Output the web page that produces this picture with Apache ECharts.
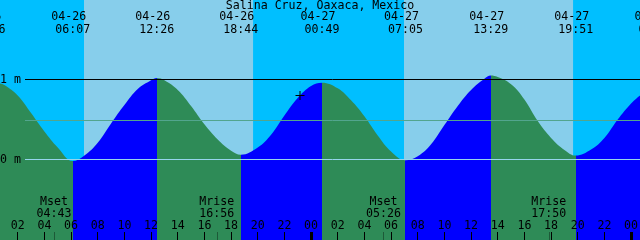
<!DOCTYPE html>
<html><head><meta charset="utf-8">
<script src="https://cdn.jsdelivr.net/npm/echarts@6/dist/echarts.min.js"></script>
<style>html,body{margin:0;padding:0;background:#fff}#c{width:640px;height:240px}</style>
</head><body><div id="c"></div>
<script>
// ---------------- data ----------------
const stationName = 'Salina Cruz, Oaxaca, Mexico';
// hours counted from 04-26 00:00 (local), heights in metres
const tideHours  = [0, 0.67, 1, 2, 3, 4, 5, 6.12, 7, 8, 9, 10, 11, 12, 12.43,
                    13, 14, 15, 16, 17, 18, 18.73, 20, 21, 22, 23, 24, 24.82,
                    26, 27, 28, 29, 30, 31.08, 32, 33, 34, 35, 36, 37, 37.48,
                    38, 39, 40, 41, 42, 43, 43.85, 45, 46, 47, 48, 48.67];
const tideMeters = [0.98, 0.95, 0.93, 0.80, 0.58, 0.35, 0.15, -0.02, 0.05, 0.21, 0.45, 0.68, 0.88, 0.99, 1.02,
                    0.99, 0.87, 0.67, 0.44, 0.25, 0.11, 0.06, 0.15, 0.31, 0.55, 0.77, 0.92, 0.96,
                    0.89, 0.74, 0.54, 0.30, 0.10, -0.01, 0.04, 0.19, 0.43, 0.67, 0.87, 1.01, 1.05,
                    1.03, 0.94, 0.75, 0.48, 0.27, 0.12, 0.05, 0.125, 0.27, 0.50, 0.70, 0.80];
const eventHours = [-0.23, 6.12, 12.43, 18.73, 24.82, 31.08, 37.48, 43.85, 49.87];
const eventDates = ['04-25', '04-26', '04-26', '04-26', '04-27', '04-27', '04-27', '04-27', '04-28'];
const eventTimes = ['23:46', '06:07', '12:26', '18:44', '00:49', '07:05', '13:29', '19:51', '01:52'];
const eventTypes = ['H', 'L', 'H', 'L', 'H', 'L', 'H', 'L', 'H'];
const sunriseHours = [6.97, 30.97];
const sunsetHours  = [19.65, 43.65];
const moonHours = [4.72, 16.93, 29.43, 41.83];
const moonNames = ['Mset', 'Mrise', 'Mset', 'Mrise'];
const moonTimes = ['04:43', '16:56', '05:26', '17:50'];
const hourTicks  = [2, 4, 6, 8, 10, 12, 14, 16, 18, 20, 22, 24, 26, 28, 30, 32, 34, 36, 38, 40, 42, 44, 46, 48];
const hourLabels = ['02','04','06','08','10','12','14','16','18','20','22','00','02','04','06','08','10','12','14','16','18','20','22','00'];
const midnightTicks = [24, 48];
const levelTicks  = [0, 1];
const levelLabels = ['0 m', '1 m'];
const meanLevel = 0.4875;
const nowHour = 23.17;
const nowMeters = 0.80;

// ---------------- style ----------------
const NIGHT = '#00BFFF', DAY = '#87CEEB', FLOOD = '#0000FF', EBB = '#2E8B57';
const MEAN = '#52A58E', DATUM = '#96D5EC', MOONTICK = '#1D5A38';
const X0 = 0.67, X1 = X0 + 48, XPAD = 3;
const Y0 = -1.00625, Y1 = 1.99375;
const txt = {fontFamily: 'DejaVu Sans Mono', fontSize: 11.6, color: '#000', lineHeight: 12};

function idx(arr, v) {
  let best = 0, d = Infinity;
  arr.forEach((a, i) => { const e = Math.abs(a - v); if (e < d) { d = e; best = i; } });
  return best;
}
const off = {axisLine: {show: false, onZero: false}, axisTick: {show: false}, axisLabel: {show: false}, splitLine: {show: false}};
function ax(extra) { return Object.assign({type: 'value', z: 10}, off, extra); }

const gridBase = {left: 0, right: 0, top: 0, bottom: 0, containLabel: false, outerBoundsMode: 'none', show: false, borderWidth: 0};
const grids = [
  Object.assign({}, gridBase, {show: true, backgroundColor: NIGHT}),
  Object.assign({}, gridBase),
  Object.assign({}, gridBase),
  Object.assign({}, gridBase, {left: -40, right: -40}),
  Object.assign({}, gridBase, {left: -40, right: -40}),
  Object.assign({}, gridBase, {left: 25})
];

const pieces = [];
for (let i = 0; i < eventHours.length; i++) {
  const p = {color: eventTypes[i] === 'L' ? EBB : FLOOD};
  if (i > 0) p.gte = eventHours[i - 1];
  p.lt = eventHours[i];
  pieces.push(p);
}
pieces.push({gte: eventHours[eventHours.length - 1], color: eventTypes[eventTypes.length - 1] === 'H' ? EBB : FLOOD});

const dayBands = sunriseHours.map((r, i) => [{xAxis: r}, {xAxis: sunsetHours[i]}]);

const option = {
  animation: false,
  title: {text: stationName, left: 'center', top: 0, padding: 0, z: 12,
          textStyle: Object.assign({}, txt, {fontWeight: 'normal'})},
  grid: grids,
  xAxis: [
    ax({gridIndex: 0, min: X0, max: X1, position: 'bottom',
        axisTick: {show: true, customValues: hourTicks, inside: true, length: 8, lineStyle: {color: '#000', width: 1}},
        axisLabel: Object.assign({show: true, customValues: hourTicks, inside: true, margin: 8.5,
                   formatter: v => hourLabels[idx(hourTicks, v)]}, txt)}),
    ax({gridIndex: 1, min: X0, max: X1, position: 'bottom',
        axisTick: {show: true, customValues: midnightTicks, inside: true, length: 8, lineStyle: {color: '#000', width: 3}}}),
    ax({gridIndex: 2, min: X0, max: X1, position: 'bottom',
        axisTick: {show: true, customValues: moonHours, inside: true, length: 8, lineStyle: {color: MOONTICK, width: 1}},
        axisLabel: Object.assign({show: true, customValues: moonHours, inside: true, margin: 20,
                   formatter: v => { const i = idx(moonHours, v); return moonNames[i] + '\n' + moonTimes[i]; }}, txt)}),
    ax({gridIndex: 3, min: X0 - XPAD, max: X1 + XPAD, position: 'top',
        axisLabel: Object.assign({show: true, customValues: eventHours, inside: true, margin: 11, padding: [0, 8, 0, 0],
                   formatter: v => eventDates[idx(eventHours, v)]}, txt)}),
    ax({gridIndex: 4, min: X0 - XPAD, max: X1 + XPAD, position: 'top',
        axisLabel: Object.assign({show: true, customValues: eventHours, inside: true, margin: 23.7,
                   formatter: v => eventTimes[idx(eventHours, v)]}, txt)}),
    ax({gridIndex: 5, min: 0, max: 1})
  ],
  yAxis: [
    ax({gridIndex: 0, min: Y0, max: Y1}),
    ax({gridIndex: 1, min: 0, max: 1}),
    ax({gridIndex: 2, min: 0, max: 1}),
    ax({gridIndex: 3, min: 0, max: 1}),
    ax({gridIndex: 4, min: 0, max: 1}),
    ax({gridIndex: 5, min: Y0, max: Y1, position: 'left',
        axisLabel: Object.assign({show: true, customValues: levelTicks, margin: 4,
                   formatter: v => levelLabels[idx(levelTicks, v)]}, txt)})
  ],
  visualMap: {type: 'piecewise', show: false, seriesIndex: 0, dimension: 0, pieces: pieces},
  series: [
    {type: 'line', xAxisIndex: 0, yAxisIndex: 0, z: 3,
     data: tideHours.map((h, i) => [h, tideMeters[i]]),
     smooth: 0.4, symbol: 'none', silent: true,
     lineStyle: {width: 0},
     areaStyle: {opacity: 1, origin: 'start'},
     markArea: {silent: true, itemStyle: {color: DAY}, data: dayBands}},
    {type: 'scatter', xAxisIndex: 0, yAxisIndex: 0, z: 6, silent: true,
     data: [[nowHour, nowMeters]],
     symbol: 'path://M0,5L10,5M5,0L5,10', symbolSize: 9,
     itemStyle: {color: 'none', borderColor: '#000', borderWidth: 1, opacity: 1}},
    {type: 'line', xAxisIndex: 5, yAxisIndex: 5, data: [], silent: true,
     markLine: {silent: true, symbol: ['none', 'none'], label: {show: false}, animation: false,
       data: [
         {yAxis: 1, lineStyle: {color: '#000', width: 1, type: 'solid'}},
         {yAxis: meanLevel, lineStyle: {color: MEAN, width: 1, type: 'solid'}},
         {yAxis: 0, lineStyle: {color: DATUM, width: 1, type: 'solid'}}
       ]}}
  ]
};
const chart = echarts.init(document.getElementById('c'), null, {renderer: 'canvas', width: 640, height: 240});
chart.setOption(option);
</script></body></html>
